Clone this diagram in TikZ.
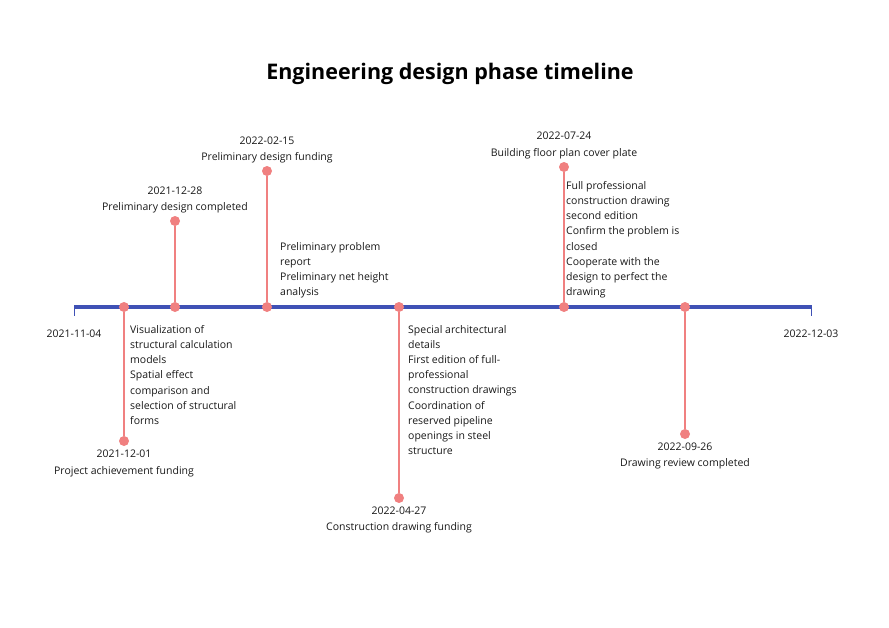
\documentclass[tikz,border=0pt]{standalone}
\usepackage{fontspec}
\setmainfont{Open Sans}
\begin{document}
\begin{tikzpicture}[x=1pt,y=-1pt,
  dot/.style={circle, fill=salmon, minimum size=10pt, inner sep=0pt},
  lbl/.style={font=\fontsize{10.5}{15.2}\selectfont, text=black!90, anchor=base},
  desc/.style={font=\fontsize{10.5}{15.2}\selectfont, text=black!90, align=left, anchor=north west, inner sep=0pt}]
\definecolor{salmon}{HTML}{F08080}
\definecolor{axisblue}{HTML}{3F51B5}
\useasboundingbox (0,0) rectangle (889,627);
\node[font=\fontsize{21.5}{24}\selectfont\bfseries, anchor=base] (title) at (450,79) {Engineering design phase timeline};
\coordinate (a0) at (74,307); \coordinate (a1) at (811,307);
\draw[axisblue, line width=3.5pt] (a0) -- (a1);
\draw[axisblue, line width=1pt] (74,305) -- (74,316) (811,305) -- (811,316);
\node[lbl] (d0) at (74,337) {2021-11-04};
\node[lbl] (d1) at (811,337) {2022-12-03};
\foreach \n/\x/\y in {e1/124/441, e2/175/221, e3/267/171, e4/399/498, e5/564/167, e6/685/434}{
  \node[dot] (\n a) at (\x,307) {};
  \node[dot] (\n b) at (\x,\y) {};
  \draw[salmon, line width=1.2pt] (\n a) -- (\n b);
}
\node[lbl] (t1) at (124,457) {2021-12-01};
\node[lbl] (s1) at (124,474) {Project achievement funding};
\node[lbl] (t2) at (175,194) {2021-12-28};
\node[lbl] (s2) at (175,210) {Preliminary design completed};
\node[lbl] (t3) at (267,144) {2022-02-15};
\node[lbl] (s3) at (267,160) {Preliminary design funding};
\node[lbl] (t4) at (399,514) {2022-04-27};
\node[lbl] (s4) at (399,530) {Construction drawing funding};
\node[lbl] (t5) at (564,139) {2022-07-24};
\node[lbl] (s5) at (564,156) {Building floor plan cover plate};
\node[lbl] (t6) at (685,450) {2022-09-26};
\node[lbl] (s6) at (685,466) {Drawing review completed};
\node[desc] (x1) at (130,325) {Visualization of\\structural calculation\\models\\Spatial effect\\comparison and\\selection of structural\\forms};
\node[desc] (x3) at (280,242) {Preliminary problem\\report\\Preliminary net height\\analysis};
\node[desc] (x4) at (408,325) {Special architectural\\details\\First edition of full-\\professional\\construction drawings\\Coordination of\\reserved pipeline\\openings in steel\\structure};
\node[desc] (x5) at (566,181) {Full professional\\construction drawing\\second edition\\Confirm the problem is\\closed\\Cooperate with the\\design to perfect the\\drawing};
\end{tikzpicture}
\end{document}
